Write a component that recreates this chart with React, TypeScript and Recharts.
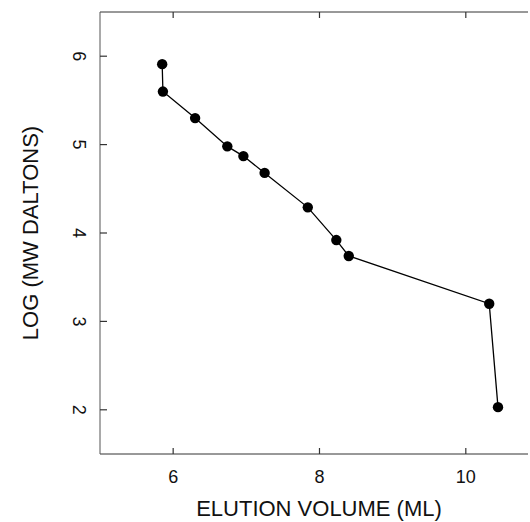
import React from "react";
import { ScatterChart, Scatter, XAxis, YAxis } from "recharts";

const elution = [5.85, 5.86, 6.3, 6.74, 6.96, 7.25, 7.84, 8.23, 8.4, 10.32, 10.44];
const logMw = [5.91, 5.6, 5.3, 4.98, 4.87, 4.68, 4.29, 3.92, 3.74, 3.2, 2.03];
const xTicks = [6, 8, 10];
const yTicks = [2, 3, 4, 5, 6];
const xTitle = "ELUTION VOLUME (ML)";
const yTitle = "LOG (MW DALTONS)";

const data = elution.map((x, i) => ({ x, y: logMw[i] }));

const FONT = "'Liberation Sans', Arial, Helvetica, sans-serif";
const INK = "#111";
const AXIS = "#333";

const BottomTick = (p: any) => {
  const { x, y, payload } = p;
  return (
    <g>
      <line x1={x} y1={y} x2={x} y2={y - 6} stroke={AXIS} strokeWidth={1.2} />
      <text x={x} y={y + 29} textAnchor="middle" fontFamily={FONT} fontSize={18} fill={INK}>
        {payload.value}
      </text>
    </g>
  );
};

const TopTick = (p: any) => {
  const { x, y } = p;
  return <line x1={x} y1={y} x2={x} y2={y + 6} stroke={AXIS} strokeWidth={1.2} />;
};

const LeftTick = (p: any) => {
  const { x, y, payload } = p;
  const tx = x - 21;
  return (
    <g>
      <line x1={x} y1={y} x2={x + 7} y2={y} stroke={AXIS} strokeWidth={1.2} />
      <text
        x={tx}
        y={y}
        textAnchor="middle"
        dominantBaseline="central"
        fontFamily={FONT}
        fontSize={18}
        fill={INK}
        transform={`rotate(90, ${tx}, ${y})`}
      >
        {payload.value}
      </text>
    </g>
  );
};

const XTitle = (p: any) => {
  const vb = p.viewBox;
  const cx = vb.x + vb.width / 2 + 5;
  return (
    <text x={cx} y={vb.y + 62} textAnchor="middle" fontFamily={FONT} fontSize={22} fill={INK}>
      {xTitle}
    </text>
  );
};

const YTitle = (p: any) => {
  const vb = p.viewBox;
  const tx = vb.x + 38;
  const ty = vb.y + vb.height / 2;
  return (
    <text
      x={tx}
      y={ty}
      textAnchor="middle"
      fontFamily={FONT}
      fontSize={22}
      fill={INK}
      transform={`rotate(-90, ${tx}, ${ty})`}
    >
      {yTitle}
    </text>
  );
};

const Dot = (p: any) => <circle cx={p.cx} cy={p.cy} r={5.2} fill="#000" />;

export default function App() {
  return (
    <div style={{ position: "absolute", left: 0, top: 0, width: 530, height: 522, background: "#fff" }}>
      <ScatterChart width={530} height={522} margin={{ top: 0, right: 2, bottom: 0, left: 0 }}>
        <XAxis
          dataKey="x"
          type="number"
          domain={[5, 10.85]}
          ticks={xTicks}
          allowDataOverflow
          height={68}
          tickSize={0}
          tickMargin={0}
          tickLine={false}
          axisLine={{ stroke: AXIS, strokeWidth: 1 }}
          tick={<BottomTick />}
          label={<XTitle />}
        />
        <XAxis
          xAxisId="top"
          orientation="top"
          dataKey="x"
          type="number"
          domain={[5, 10.85]}
          ticks={xTicks}
          allowDataOverflow
          height={12}
          tickSize={0}
          tickMargin={0}
          tickLine={false}
          axisLine={{ stroke: AXIS, strokeWidth: 1 }}
          tick={<TopTick />}
        />
        <YAxis
          dataKey="y"
          type="number"
          domain={[1.5, 6.5]}
          ticks={yTicks}
          allowDataOverflow
          width={100}
          tickSize={0}
          tickMargin={0}
          tickLine={false}
          axisLine={{ stroke: "#555", strokeWidth: 1 }}
          tick={<LeftTick />}
          label={<YTitle />}
        />
        <Scatter
          data={data}
          isAnimationActive={false}
          line={{ stroke: "#000", strokeWidth: 1.3 }}
          lineType="joint"
          shape={<Dot />}
        />
      </ScatterChart>
    </div>
  );
}
